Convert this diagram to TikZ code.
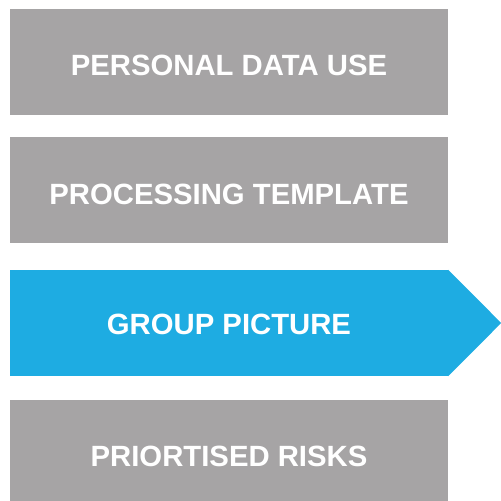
\documentclass[tikz,border=0pt]{standalone}
\usepackage{fontspec}
\setmainfont{Liberation Sans}
\definecolor{boxgray}{RGB}{166,164,165}
\definecolor{stepblue}{RGB}{30,172,226}
\begin{document}
\begin{tikzpicture}[x=1bp,y=-1bp,
  stagebox/.style={fill=boxgray, draw=none, minimum width=438bp, minimum height=106bp,
    inner sep=0pt, text=white, font=\bfseries\fontsize{29.4}{31}\selectfont,
    text depth=0pt},
  current/.style={stagebox, fill=stepblue}]
\useasboundingbox (0,0) rectangle (501,501);
\node[stagebox, text height=26.5bp] (pdu)  at (229,62)  {PERSONAL DATA USE};
\node[stagebox, text height=28.7bp] (tpl)  at (229,190) {PROCESSING TEMPLATE};
\node[current,  text height=23.1bp] (grp)  at (229,323) {GROUP PICTURE};
\node[stagebox, text height=31.7bp, minimum height=101bp] (risk) at (229,450.5) {PRIORTISED RISKS};
% arrow head on the current stage
\fill[stepblue] (grp.north east) -- ([xshift=53bp]grp.east) -- (grp.south east) -- cycle;
\end{tikzpicture}
\end{document}
